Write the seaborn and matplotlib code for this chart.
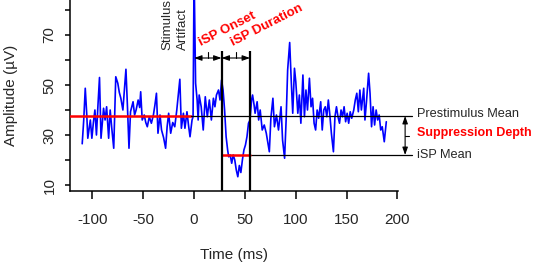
import matplotlib
matplotlib.use("Agg")
import matplotlib.pyplot as plt
import seaborn as sns

# EMG trace (time in ms, amplitude in microvolts)
time_ms = [
    -110, -108.5, -107, -105.5, -104.5, -103, -102, -100.5, -99, -97.5,
    -96, -94.5, -93, -91.5, -90, -89, -87.5, -86, -84, -82.5,
    -81, -79, -77, -75, -73.5, -72, -70, -68.5, -67, -65.5,
    -64, -62.5, -60, -58.5, -57, -55, -53.5, -52.5, -51, -49,
    -47.5, -46, -44, -42, -40, -38.5, -37, -35.5, -33.5, -32,
    -30, -28, -26.5, -25, -23, -21, -19, -17, -15.5, -14,
    -12.5, -10.5, -9, -7, -5.5, -4, -2, -1,
    0, 1.5, 3, 4, 5, 7, 9, 11, 13, 15,
    17, 19, 20.5, 22, 24, 25.5, 27, 28.5, 30, 31.5,
    33, 34, 35.5, 37, 38.5, 40, 41.5, 43, 44.5, 46,
    47.5, 49, 50.5, 52, 53.5, 55, 56.5, 57.5, 59, 60,
    62, 63.5, 65, 67, 69, 71, 72.5, 74, 75.5, 77.5,
    79, 81, 83, 85.5, 87, 89, 90.5, 92, 94, 95.5,
    97, 98.7, 100, 102, 103.5, 105, 107, 108.5, 110, 111.5,
    113.4, 115, 116.5, 118, 119.5, 121, 122.5, 124.5, 126, 127.5,
    129, 130.5, 132, 133.5, 135, 137, 138.5, 140, 141.5, 143,
    144.5, 146, 147.5, 149, 150.5, 152, 153.5, 155, 157, 158.5,
    160, 161.5, 163, 164.5, 166.8, 168, 169.5, 171.6, 173, 174.5,
    176, 177.5, 179, 180.5, 182, 183.5, 185, 187, 189,
]
amplitude_uv = [
    26.5, 36, 48.7, 38, 28.7, 33, 36, 28.7, 35, 40,
    30, 42, 53, 28.7, 36, 40.7, 36, 41.3, 28.7, 40,
    33, 24.7, 53.3, 50.7, 47, 44.7, 40, 48, 56.3, 41.3,
    24.7, 39.3, 43.3, 38, 40, 44, 41, 47.3, 36, 38,
    35, 33.3, 37.3, 34.7, 38, 42, 46.7, 30.7, 38, 32,
    29, 24.7, 33.3, 38.7, 30.7, 35, 33.3, 40, 46, 52.3,
    32.7, 38.7, 32.7, 39.3, 34, 29.3, 36, 37.3,
    95, 50.7, 44, 36, 46, 41.3, 32, 45.3, 37.3, 44,
    36, 44.7, 41.3, 46, 48, 44, 52, 48, 40, 29.3,
    24, 21.3, 22, 18.7, 22, 20, 16, 13.3, 17.8, 15,
    20, 24, 26, 29.3, 34.7, 36, 44, 46, 42, 38.7,
    43.3, 36, 40, 32, 34, 30.7, 27, 23.3, 36.7, 44.7,
    33.3, 38, 32, 41.3, 28, 20.7, 36, 56, 67, 52,
    38.7, 56.7, 51.3, 38.7, 46, 34.7, 54, 37.3, 48, 40,
    52.7, 41.3, 44.7, 34.7, 32, 40, 36.7, 43.3, 32, 40,
    41.3, 37.3, 44, 38, 30.7, 23.3, 37.3, 41.3, 37.3, 34.7,
    40, 37.3, 41.3, 35.3, 38.7, 34.7, 39.3, 36.7, 40, 44,
    46.7, 39.3, 48, 40, 48.7, 36, 43.3, 54.7, 46.7, 33.3,
    41.3, 34, 40, 36, 38, 32, 33.3, 27.3, 35.3,
]

prestim_mean = 37.6
isp_mean = 22.0
isp_onset = 27
isp_offset = 55

x_ticks = [-100, -50, 0, 50, 100, 150, 200]
y_ticks = [10, 30, 50, 70]
y_minor_ticks = [20, 40, 60, 80]

sns.set_style("ticks")
plt.rcParams['font.family'] = ['Liberation Sans', 'DejaVu Sans']
plt.rcParams['axes.unicode_minus'] = False

fig = plt.figure(figsize=(5.36, 2.65), dpi=100)
ax = fig.add_axes([70 / 536, 1 - 191 / 265, 328 / 536, 191 / 265])

sns.lineplot(x=time_ms, y=amplitude_uv, ax=ax, color='#0000ff', lw=1.2,
             estimator=None, sort=False, zorder=3)

x_left, x_right = -122, 200.5
y_bottom, y_top = 7.6, 84
ax.set_xlim(x_left, x_right)
ax.set_ylim(y_bottom, y_top)

# mean levels
line_end = 214.5
ax.plot([x_left, -3], [prestim_mean] * 2, color='red', lw=1.8, zorder=4)
ax.plot([-3, line_end], [prestim_mean] * 2, color='black', lw=0.9, zorder=4, clip_on=False)
ax.plot([isp_onset, isp_offset], [isp_mean] * 2, color='red', lw=1.8, zorder=5)
ax.plot([isp_offset, line_end], [isp_mean] * 2, color='black', lw=0.9, zorder=4, clip_on=False)

# onset / offset markers
ax.vlines([isp_onset, isp_offset], y_bottom, 63.5, color='black', lw=1.6, zorder=5)

arrow_style = dict(arrowstyle='<|-|>,head_length=0.45,head_width=0.16', color='black',
                   lw=0.8, shrinkA=0, shrinkB=0)
arrow_y = 60.8
for a, b in [(0, isp_onset), (isp_onset, isp_offset)]:
    ax.annotate('', xy=(b, arrow_y), xytext=(a, arrow_y), arrowprops=arrow_style)
    ax.plot([(a + b) / 2] * 2, [arrow_y, 63.2], color='black', lw=0.8)

# suppression depth arrow
depth_x = 207.5
ax.annotate('', xy=(depth_x, isp_mean), xytext=(depth_x, prestim_mean),
            arrowprops=arrow_style, annotation_clip=False)
ax.plot([depth_x, depth_x + 4], [(prestim_mean + isp_mean) / 2] * 2,
        color='black', lw=0.8, clip_on=False)

# text labels
ax.text(219.4, prestim_mean + 0.9, 'Prestimulus Mean', fontsize=9.2, va='center', ha='left')
ax.text(219.4, (prestim_mean + isp_mean) / 2 + 0.9, 'Suppression Depth', fontsize=9,
        fontweight='bold', color='red', va='center', ha='left')
ax.text(219.4, isp_mean + 0.2, 'iSP Mean', fontsize=9.2, va='center', ha='left')
ax.text(-5.5, 64, 'Stimulus\nArtifact', rotation=90, ha='right', va='bottom',
        fontsize=9.6, multialignment='left', linespacing=1.35)
ax.text(7.2, 65.6, 'iSP Onset', rotation=27, rotation_mode='anchor', ha='left',
        va='baseline', color='red', fontweight='bold', fontsize=9.5)
ax.text(38, 65.6, 'iSP Duration', rotation=27, rotation_mode='anchor', ha='left',
        va='baseline', color='red', fontweight='bold', fontsize=9.5)

# axes styling
ax.set_xticks(x_ticks)
ax.set_yticks(y_ticks)
ax.set_yticks(y_minor_ticks, minor=True)
ax.tick_params(axis='x', length=5.8, width=1.1, pad=10, labelsize=11, color='black')
ax.tick_params(axis='y', which='both', length=3.6, width=1.1, pad=6, labelsize=11, color='black')
plt.setp(ax.get_yticklabels(), rotation=90, va='center')
for side in ['top', 'right']:
    ax.spines[side].set_visible(False)
for side in ['left', 'bottom']:
    ax.spines[side].set_linewidth(1.1)
    ax.spines[side].set_color('black')

ax.set_xlabel('Time (ms)', fontsize=11)
ax.set_ylabel('Amplitude (µV)', fontsize=11)
ax.xaxis.set_label_coords(0.5, -0.298)
ax.yaxis.set_label_coords(-0.16, 0.5)

fig.savefig('out.png', dpi=100)
